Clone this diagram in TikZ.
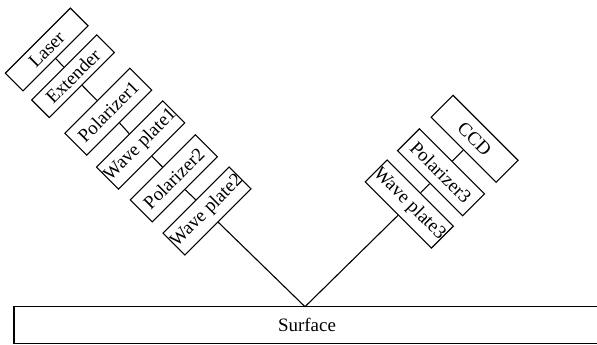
\documentclass[tikz,border=0pt]{standalone}
\usepackage{fontspec}
\setmainfont{Liberation Serif}
\begin{document}
\begin{tikzpicture}[x=1bp,y=-1bp,
  basebox/.style={draw,line width=1.1bp,inner sep=0pt,minimum width=92bp,minimum height=31bp,font=\fontsize{19}{19}\selectfont},
  lbox/.style={basebox,rotate=45},
  rbox/.style={basebox,rotate=-45},
  link/.style={line width=1.1bp}]
\useasboundingbox (0,0) rectangle (597,344);
\node[lbox,minimum height=25bp] (laser) at (46.7,49.5) {Laser};
\node[lbox,minimum height=25bp] (ext) at (73,76.2) {Extender};
\node[lbox] (pol1) at (108.3,111.7) {Polarizer1};
\node[lbox] (wp1) at (140.6,145) {Wave plate1};
\node[lbox] (pol2) at (173.8,178.3) {Polarizer2};
\node[lbox] (wp2) at (207,211) {Wave plate2};
\node[rbox] (ccd) at (474.6,138.8) {CCD};
\node[rbox] (pol3) at (441,172.3) {Polarizer3};
\node[rbox] (wp3) at (409.3,204) {Wave plate3};
\node[draw,line width=1.1bp,inner sep=0pt,minimum width=586bp,minimum height=36.6bp,font=\fontsize{19}{19}\selectfont] (surface) at (307,325) {Surface};
\coordinate (apex) at (305,306.7);
\draw[link] (laser.south) -- (ext.north);
\draw[link] (ext.south) -- (pol1.north);
\draw[link] (pol1.south) -- (wp1.north);
\draw[link] (wp1.south) -- (pol2.north);
\draw[link] (pol2.south) -- (wp2.north);
\draw[link] (ccd.south) -- (pol3.north);
\draw[link] (pol3.south) -- (wp3.north);
\draw[link] (wp2.south) -- (apex) -- (wp3.south);
\end{tikzpicture}
\end{document}
